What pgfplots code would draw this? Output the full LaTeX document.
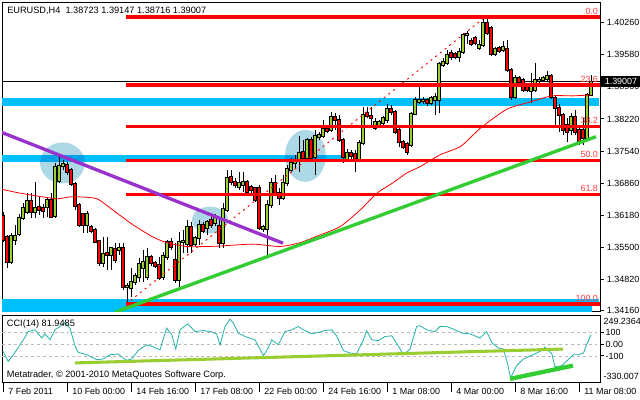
\documentclass[border=0pt]{standalone}
\usepackage{fontspec}
\setmainfont{Liberation Sans}
\usepackage{pgfplots}
\usepackage{pgfplotstable}
\pgfplotsset{compat=1.18}

\definecolor{bandblue}{RGB}{0,191,255}
\definecolor{circleblue}{RGB}{173,216,230}
\definecolor{bullgreen}{RGB}{154,205,50}
\definecolor{fibtext}{RGB}{255,60,60}
\definecolor{trendpurple}{RGB}{153,50,204}
\definecolor{trendgreen}{RGB}{50,205,50}
\definecolor{ccicol}{RGB}{32,178,170}
\definecolor{levelgray}{RGB}{185,185,185}

\newcommand{\sm}{\fontsize{6.7}{8}\selectfont}

% EURUSD H4 candles, bar index i (4 px per bar)
\pgfplotstableread{
i O H L C
2 1.3519 1.3581 1.3515 1.3574
3 1.3566 1.3598 1.3555 1.3574
4 1.3579 1.3621 1.3574 1.3612
5 1.3612 1.3644 1.3608 1.3634
6 1.3625 1.3665 1.3621 1.3648
8 1.3625 1.3689 1.3612 1.3634
11 1.3636 1.3657 1.3615 1.3650
13 1.3617 1.3729 1.3612 1.3720
14 1.3691 1.3746 1.3687 1.3722
15 1.3722 1.3735 1.3714 1.3727
21 1.3598 1.3627 1.3581 1.3621
25 1.3517 1.3572 1.3509 1.3536
27 1.3534 1.3551 1.3502 1.3549
29 1.3545 1.3559 1.3534 1.3549
31 1.3466 1.3475 1.3432 1.3468
32 1.3464 1.3507 1.3445 1.3477
33 1.3477 1.3496 1.3471 1.3490
34 1.3487 1.3528 1.3477 1.3515
35 1.3507 1.3545 1.3477 1.3519
36 1.3487 1.3549 1.3481 1.3530
40 1.3487 1.3540 1.3481 1.3532
41 1.3530 1.3566 1.3523 1.3562
44 1.3481 1.3583 1.3460 1.3562
45 1.3562 1.3587 1.3538 1.3564
46 1.3557 1.3608 1.3538 1.3593
48 1.3557 1.3574 1.3553 1.3570
49 1.3570 1.3608 1.3555 1.3598
51 1.3591 1.3608 1.3576 1.3604
53 1.3602 1.3621 1.3595 1.3615
55 1.3559 1.3644 1.3549 1.3631
56 1.3629 1.3714 1.3625 1.3697
59 1.3678 1.3710 1.3672 1.3687
60 1.3682 1.3710 1.3668 1.3689
65 1.3589 1.3598 1.3583 1.3593
66 1.3589 1.3650 1.3528 1.3640
67 1.3640 1.3697 1.3634 1.3687
70 1.3655 1.3703 1.3650 1.3687
71 1.3687 1.3725 1.3680 1.3716
72 1.3714 1.3740 1.3710 1.3729
73 1.3729 1.3746 1.3718 1.3735
74 1.3735 1.3786 1.3710 1.3750
76 1.3740 1.3782 1.3735 1.3778
78 1.3742 1.3799 1.3703 1.3786
79 1.3784 1.3795 1.3778 1.3788
80 1.3786 1.3820 1.3782 1.3801
82 1.3799 1.3837 1.3795 1.3826
86 1.3737 1.3759 1.3731 1.3750
89 1.3737 1.3778 1.3733 1.3771
90 1.3771 1.3848 1.3767 1.3831
93 1.3803 1.3824 1.3799 1.3816
94 1.3807 1.3820 1.3803 1.3816
95 1.3814 1.3829 1.3809 1.3824
96 1.3820 1.3854 1.3814 1.3843
102 1.3767 1.3837 1.3763 1.3833
103 1.3833 1.3869 1.3831 1.3862
104 1.3858 1.3890 1.3854 1.3862
105 1.3860 1.3869 1.3854 1.3862
107 1.3856 1.3871 1.3852 1.3867
108 1.3862 1.3877 1.3831 1.3869
109 1.3862 1.3943 1.3835 1.3939
110 1.3936 1.3951 1.3932 1.3943
111 1.3941 1.3968 1.3936 1.3958
114 1.3953 1.3972 1.3943 1.3964
115 1.3964 1.4004 1.3960 1.4000
116 1.4000 1.4008 1.3981 1.4002
119 1.3972 1.3989 1.3968 1.3979
120 1.3979 1.4038 1.3975 1.4025
123 1.3960 1.3975 1.3956 1.3970
125 1.3968 1.3987 1.3964 1.3975
128 1.3869 1.3915 1.3864 1.3909
132 1.3881 1.3919 1.3856 1.3890
133 1.3883 1.3941 1.3879 1.3905
134 1.3903 1.3911 1.3898 1.3905
135 1.3905 1.3913 1.3900 1.3909
136 1.3907 1.3924 1.3900 1.3913
142 1.3799 1.3835 1.3788 1.3826
146 1.3782 1.3877 1.3778 1.3873
147 1.38723 1.39147 1.38716 1.39007
}\bull

\pgfplotstableread{
i O H L C
0 1.3617 1.3625 1.3562 1.3566
1 1.3572 1.3576 1.3507 1.3519
7 1.3648 1.3665 1.3612 1.3625
9 1.3636 1.3657 1.3619 1.3629
10 1.3634 1.3642 1.3612 1.3627
12 1.3650 1.3665 1.3612 1.3615
16 1.3725 1.3731 1.3703 1.3710
17 1.3714 1.3718 1.3680 1.3684
18 1.3684 1.3689 1.3629 1.3638
19 1.3640 1.3644 1.3593 1.3598
20 1.3621 1.3623 1.3581 1.3598
22 1.3593 1.3598 1.3581 1.3585
23 1.3587 1.3591 1.3559 1.3562
24 1.3564 1.3566 1.3511 1.3517
26 1.3538 1.3572 1.3502 1.3534
28 1.3547 1.3559 1.3517 1.3523
30 1.3549 1.3559 1.3460 1.3466
37 1.3530 1.3534 1.3511 1.3517
38 1.3517 1.3521 1.3507 1.3511
39 1.3513 1.3530 1.3481 1.3485
42 1.3562 1.3570 1.3545 1.3551
43 1.3523 1.3559 1.3475 1.3481
47 1.3593 1.3604 1.3538 1.3555
50 1.3598 1.3604 1.3581 1.3585
52 1.3608 1.3615 1.3591 1.3598
54 1.3595 1.3608 1.3549 1.3559
57 1.3699 1.3714 1.3682 1.3689
58 1.3689 1.3697 1.3676 1.3682
61 1.3689 1.3693 1.3661 1.3668
62 1.3678 1.3682 1.3661 1.3672
63 1.3676 1.3678 1.3646 1.3650
64 1.3676 1.3682 1.3587 1.3591
68 1.3687 1.3703 1.3661 1.3665
69 1.3665 1.3676 1.3640 1.3655
75 1.3752 1.3778 1.3735 1.3740
77 1.3778 1.3784 1.3735 1.3740
81 1.3801 1.3805 1.3792 1.3797
83 1.3826 1.3835 1.3799 1.3820
84 1.3820 1.3831 1.3773 1.3778
85 1.3778 1.3782 1.3729 1.3742
87 1.3750 1.3756 1.3737 1.3744
88 1.3748 1.3756 1.3710 1.3737
91 1.3835 1.3848 1.3824 1.3829
92 1.3829 1.3848 1.3803 1.3824
97 1.3843 1.3852 1.3831 1.3837
98 1.3837 1.3841 1.3790 1.3795
99 1.3799 1.3803 1.3763 1.3773
100 1.3773 1.3778 1.3759 1.3763
101 1.3769 1.3773 1.3746 1.3752
106 1.3862 1.3867 1.3850 1.3856
112 1.3962 1.3968 1.3947 1.3953
113 1.3960 1.3964 1.3949 1.3953
117 1.3987 1.3994 1.3977 1.3981
118 1.3994 1.3998 1.3979 1.3983
121 1.4025 1.4034 1.4000 1.4004
122 1.4015 1.4019 1.3956 1.3960
124 1.3972 1.3977 1.3962 1.3966
126 1.3970 1.3989 1.3922 1.3926
127 1.3926 1.3930 1.3862 1.3869
129 1.3909 1.3913 1.3894 1.3900
130 1.3905 1.3909 1.3879 1.3883
131 1.3890 1.3894 1.3879 1.3883
137 1.3913 1.3917 1.3864 1.3869
138 1.3867 1.3871 1.3809 1.3845
139 1.3845 1.3854 1.3795 1.3831
140 1.3831 1.3835 1.3788 1.3799
141 1.3809 1.3824 1.3773 1.3795
143 1.3826 1.3841 1.3788 1.3795
144 1.3799 1.3803 1.3767 1.3773
145 1.3799 1.3824 1.3767 1.3782
}\bear

\pgfplotsset{
  candle/.style={draw=none, mark=none, forget plot, error bars/.cd, y dir=plus, y explicit,
    error mark=none, error bar style={#1}},
}

\begin{document}
\begin{tikzpicture}
\fill[white] (0,0) rectangle (480pt,300pt);
\useasboundingbox (0,0) rectangle (480pt,300pt);

% ---------------- price panel ----------------
\begin{axis}[
  at={(1.5pt,66pt)}, anchor=south west, scale only axis,
  width=448.5pt, height=232.3pt,
  xmin=-0.25, xmax=149.25, ymin=1.34133, ymax=1.40692,
  xtick=\empty,
  ytick={1.3416,1.3482,1.3550,1.3618,1.3686,1.3754,1.3822,1.3890,1.3958,1.4026},
  yticklabels={1.34160,1.34820,1.35500,1.36180,1.36860,1.37540,1.38220,1.38900,1.39580,1.40260},
  ytick pos=right, yticklabel pos=right,
  tick align=outside, major tick length=3pt,
  tick style={black, line width=0.75pt},
  axis line style={line width=0.75pt},
  yticklabel style={font=\sm, inner xsep=2pt},
  clip mode=individual,
]
% support / resistance bands
\addplot[fill=bandblue, draw=none] coordinates {(-0.25,1.38659) (149,1.38659) (149,1.38496) (-0.25,1.38496)} -- cycle;
\addplot[fill=bandblue, draw=none] coordinates {(-0.25,1.37458) (86,1.37458) (86,1.37310) (-0.25,1.37310)} -- cycle;
\addplot[fill=bandblue, draw=none] coordinates {(-0.25,1.34408) (149,1.34408) (149,1.34260) (-0.25,1.34260)} -- cycle;
\addplot[fill=bandblue, draw=none] coordinates {(-0.25,1.34260) (147.25,1.34260) (147.25,1.34133) (-0.25,1.34133)} -- cycle;

% highlight circles
\fill[circleblue, blend mode=multiply] (axis cs:14.875,1.3729) ellipse [x radius=5.6, y radius=0.00434];
\fill[circleblue, blend mode=multiply] (axis cs:51.75,1.3608) ellipse [x radius=4.5, y radius=0.00285];
\fill[circleblue, blend mode=multiply] (axis cs:75.6,1.3744) ellipse [x radius=5.1, y radius=0.0055];

% current price line
\addplot[black, line width=0.6pt] coordinates {(-0.25,1.39007) (149.25,1.39007)};

% candles: wicks, body outlines, body fills
\addplot[candle={draw=black, line width=0.75pt}] table[x=i, y=L, y error expr=\thisrow{H}-\thisrow{L}] {\bull};
\addplot[candle={draw=black, line width=0.75pt}] table[x=i, y=L, y error expr=\thisrow{H}-\thisrow{L}] {\bear};
\addplot[candle={draw=black, line width=2.3pt}] table[x=i, y expr=\thisrow{O}-0.0002, y error expr=\thisrow{C}-\thisrow{O}+0.0004] {\bull};
\addplot[candle={draw=black, line width=2.3pt}] table[x=i, y expr=\thisrow{C}-0.0002, y error expr=\thisrow{O}-\thisrow{C}+0.0004] {\bear};
\addplot[candle={draw=bullgreen, line width=0.95pt}] table[x=i, y=O, y error expr=\thisrow{C}-\thisrow{O}] {\bull};
\addplot[candle={draw=red, line width=0.95pt}] table[x=i, y=C, y error expr=\thisrow{O}-\thisrow{C}] {\bear};

% moving average
\addplot[red, line width=0.6pt, smooth, tension=0.4] coordinates {
(-0.25,1.3673) (4.25,1.3665) (10,1.3657) (13.5,1.3653) (16.75,1.3657) (19.25,1.3657)
(23.5,1.3653) (27.5,1.3629) (32.5,1.3598) (37.5,1.3572) (41,1.3560) (46,1.3552)
(51,1.3552) (54.25,1.3553) (62.5,1.3557) (69.25,1.3552) (74.25,1.3560) (78.5,1.3574)
(84.25,1.3594) (89.25,1.3629) (93.5,1.3665) (97.5,1.3687) (101,1.3708) (104.25,1.3721)
(109.25,1.3746) (114.25,1.3763) (117.5,1.3788) (120,1.3807) (126,1.3843) (131.75,1.3858)
(137.25,1.3871) (142.5,1.3871) (147,1.3873)};

% fibonacci retracement
\addplot[red, line width=0.7pt, dash pattern=on 1.5pt off 3pt] coordinates {(30.75,1.3430) (120.25,1.4036)};
\pgfplotsinvokeforeach{1.4038,1.3894,1.3806,1.3734,1.3662,1.3430}{
  \addplot[red, line width=2.7pt] coordinates {(30.75,#1) (149.25,#1)};
}
\node[anchor=south east, inner sep=0pt, text=fibtext, font=\sm] at (axis cs:148.8,1.4043) {0.0};
\node[anchor=south east, inner sep=0pt, text=fibtext, font=\sm] at (axis cs:148.8,1.3899) {23.6};
\node[anchor=south east, inner sep=0pt, text=fibtext, font=\sm] at (axis cs:148.8,1.3811) {38.2};
\node[anchor=south east, inner sep=0pt, text=fibtext, font=\sm] at (axis cs:148.8,1.3739) {50.0};
\node[anchor=south east, inner sep=0pt, text=fibtext, font=\sm] at (axis cs:148.8,1.3667) {61.8};
\node[anchor=south east, inner sep=0pt, text=fibtext, font=\sm] at (axis cs:148.8,1.3435) {100.0};

% trend lines
\addplot[trendpurple, line width=2.5pt] coordinates {(-0.75,1.3795) (70,1.3559)};
\addplot[trendgreen, line width=2.5pt] coordinates {(28,1.34127) (148.25,1.37846)};
\end{axis}

% ---------------- CCI panel ----------------
\begin{axis}[
  at={(1.5pt,12.75pt)}, anchor=south west, scale only axis,
  width=448.5pt, height=51pt,
  xmin=-0.25, xmax=149.25, ymin=-330.007, ymax=249.2364,
  xtick={0,16,...,144},
  xticklabels={7 Feb 2011,10 Feb 00:00,14 Feb 16:00,17 Feb 08:00,22 Feb 00:00,24 Feb 16:00,1 Mar 08:00,4 Mar 00:00,8 Mar 16:00,11 Mar 08:00},
  xtick pos=bottom,
  ytick={-100,0,100}, yticklabels={-100,0.00,100},
  ytick pos=right, yticklabel pos=right,
  tick align=outside, major tick length=3pt,
  xtick style={/pgfplots/major tick length=6.5pt},
  tick style={black, line width=0.75pt},
  axis line style={line width=0.75pt},
  ticklabel style={font=\sm},
  yticklabel style={inner xsep=1pt},
  xticklabel style={anchor=north west, xshift=0.5pt, yshift=2.8pt},
  clip mode=individual,
]
\pgfplotsinvokeforeach{100,0,-100}{
  \addplot[levelgray, line width=0.6pt, dash pattern=on 2.2pt off 2.2pt] coordinates {(-0.25,#1) (149.25,#1)};
}
\addplot[ccicol, line width=0.6pt] coordinates {
(0,-61) (1.3,-146) (2.6,-89) (5.1,38) (6.3,108) (8,123) (9.7,53) (10.5,89) (11.75,38)
(13,123) (14.25,151) (15.5,185) (16.75,137) (18,-13) (18.8,-69) (20.9,-89) (23.4,-131)
(25.1,-125) (26.75,-89) (28.8,-83) (29.7,-108) (30.9,-137) (32.2,-125) (33.8,-53)
(35.9,-4) (37.6,-24) (39.25,-47) (40.9,137) (42.2,81) (43.2,-41) (44.25,123) (46.2,174)
(48,108) (50.1,117) (51.75,108) (53.4,89) (54.25,-5) (55.5,151) (56.75,214) (57.6,180)
(58.8,95) (60.9,61) (63,38) (65.1,-97) (66.3,-32) (67.2,38) (68.8,-4) (70.5,108)
(72.2,123) (73.8,151) (75.1,123) (77.2,89) (78.8,100) (80.5,117) (82.2,123) (83.4,72)
(85.1,-53) (86.75,-75) (88.4,-81) (90.1,38) (90.9,114) (92.2,38) (93.8,30) (95.5,66)
(97.2,72) (98.8,-13) (100.1,-89) (101.75,-41) (103.4,151) (104.25,158) (105.9,123)
(108,108) (109.25,151) (110.9,151) (112.6,129) (114.7,95) (116.75,89) (119.25,53)
(120.9,108) (122.2,15) (123.8,-32) (125.1,-41) (126.1,-159) (126.9,-286) (128.4,-182)
(130.1,-125) (132.6,-89) (134.25,-61) (135.5,-24) (136.3,-53) (137.2,-81) (138,-193)
(139.7,-182) (141.3,-131) (142.6,-89) (143.8,-89) (145.1,-75) (145.9,-4) (147,81.9485)};
\addplot[bullgreen, line width=2.3pt] coordinates {(18,-159) (140,-41)};
\addplot[trendgreen, line width=3.2pt] coordinates {(126.75,-295) (142.5,-182)};
\end{axis}

% texts outside the plot areas
\node[anchor=west, inner sep=0pt, font=\fontsize{6.9}{8}\selectfont] at (5.25pt,291.75pt)
  {EURUSD,H4\ \ 1.38723 1.39147 1.38716 1.39007};
\node[anchor=west, inner sep=0pt, font=\fontsize{6.9}{8}\selectfont] at (5pt,56.6pt) {CCI(14) 81.9485};
\node[anchor=west, inner sep=0pt, font=\fontsize{6.9}{8}\selectfont] at (5pt,18.75pt)
  {Metatrader, © 2001-2010 MetaQuotes Software Corp.};
\node[anchor=west, fill=black, text=white, inner xsep=2.5pt, inner ysep=1.7pt, font=\sm] at (450.9pt,238.6pt) {1.39007};
\node[anchor=west, inner sep=0pt, font=\sm] at (452.5pt,59.25pt) {249.2364};
\node[anchor=west, inner sep=0pt, font=\sm] at (452.5pt,17.6pt) {-330.007};
\end{tikzpicture}
\end{document}
